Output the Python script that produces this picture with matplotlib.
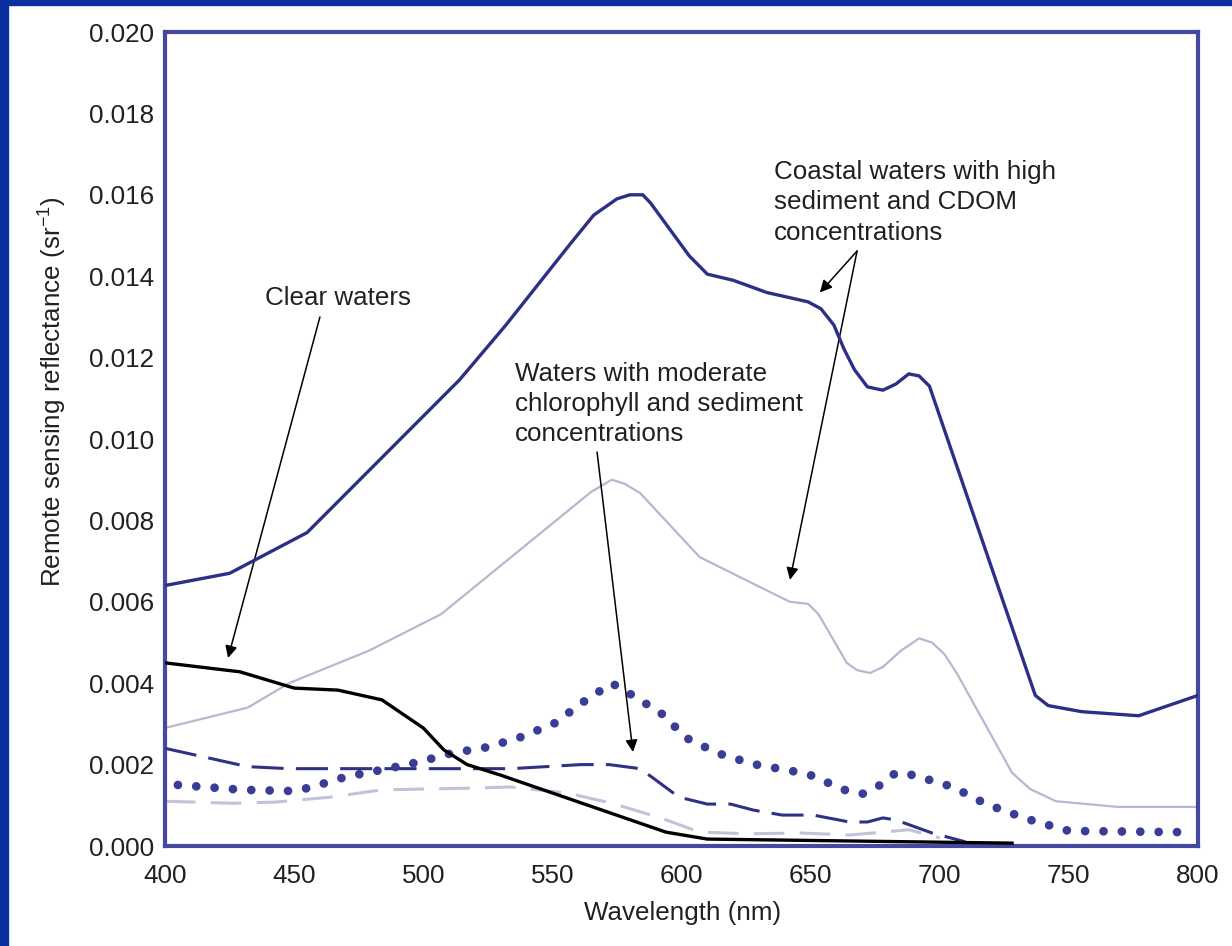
import numpy as np
import matplotlib
matplotlib.use("Agg")
import matplotlib.pyplot as plt
from matplotlib.patches import Rectangle

plt.rcParams['font.family'] = ['Liberation Sans', 'DejaVu Sans']
plt.rcParams['mathtext.fontset'] = 'custom'
plt.rcParams['mathtext.rm'] = 'Liberation Sans'
plt.rcParams['mathtext.it'] = 'Liberation Sans:italic'

# remote sensing reflectance spectra (sr^-1) vs wavelength (nm)
wl_coastal = [400, 425, 455, 514, 532, 557, 566, 575, 580, 585, 588, 603, 610, 620,
              633, 649, 654, 659, 663, 667, 672, 678, 683, 688, 692, 696, 737, 742,
              755, 777, 800]
rrs_coastal = [0.0064, 0.0067, 0.0077, 0.01145, 0.0128, 0.0148, 0.0155, 0.0159, 0.0160,
               0.0160, 0.0158, 0.0145, 0.01405, 0.0139, 0.0136, 0.01337, 0.0132, 0.0128,
               0.0122, 0.0117, 0.01128, 0.0112, 0.01135, 0.0116, 0.01155, 0.0113,
               0.0037, 0.00345, 0.0033, 0.0032, 0.0037]

wl_turbid = [400, 432, 448, 479, 507, 565, 573, 578, 584, 607, 626, 642, 649, 653, 664,
             668, 673, 678, 685, 692, 697, 702, 707, 728, 735, 745, 769, 800]
rrs_turbid = [0.0029, 0.0034, 0.0040, 0.0048, 0.0057, 0.0087, 0.0090, 0.0089, 0.00867,
              0.0071, 0.0065, 0.0060, 0.00595, 0.0057, 0.0045, 0.00432, 0.00425, 0.0044,
              0.0048, 0.0051, 0.0050, 0.0047, 0.0042, 0.0018, 0.0014, 0.0011, 0.00096,
              0.00096]

wl_clear = [400, 429, 450, 467, 484, 500, 508, 517, 530, 594, 610, 728]
rrs_clear = [0.0045, 0.00428, 0.00388, 0.00383, 0.00359, 0.0029, 0.00236, 0.0020,
             0.00174, 0.00034, 0.00017, 0.00007]

wl_moderate = [405, 430, 450, 457, 470, 484, 498, 511, 525, 538, 551, 562, 573, 579,
               592, 602, 614, 628, 643, 650, 663, 670, 677, 683, 690, 705, 718, 734,
               750, 795]
rrs_moderate = [0.0015, 0.00138, 0.00135, 0.00145, 0.0017, 0.00187, 0.00206, 0.00228,
                0.00243, 0.00268, 0.00302, 0.00354, 0.0040, 0.00378, 0.00327, 0.00265,
                0.00228, 0.00201, 0.00184, 0.00174, 0.00138, 0.00128, 0.0015, 0.0018,
                0.00174, 0.00145, 0.00103, 0.00066, 0.00037, 0.00034]

wl_dash1 = [400, 432, 448, 534, 561, 572, 584, 589, 599, 610, 619, 628, 639, 651, 665,
            672, 678, 683, 697, 710]
rrs_dash1 = [0.0024, 0.00195, 0.0019, 0.0019, 0.0020, 0.0020, 0.0019, 0.00167, 0.0012,
             0.00103, 0.00103, 0.00088, 0.00076, 0.00076, 0.00059, 0.00059, 0.00069,
             0.00064, 0.00032, 0.0001]

wl_dash2 = [400, 426, 443, 464, 484, 517, 534, 556, 573, 592, 607, 626, 646, 665, 678,
            688, 700]
rrs_dash2 = [0.0011, 0.00105, 0.00108, 0.0012, 0.00138, 0.00142, 0.00145, 0.0013,
             0.00105, 0.00069, 0.00034, 0.0003, 0.00032, 0.00027, 0.00034, 0.0004, 0.0002]

xticks = [400, 450, 500, 550, 600, 650, 700, 750, 800]
yticks = [0.000, 0.002, 0.004, 0.006, 0.008, 0.010, 0.012, 0.014, 0.016, 0.018, 0.020]

txt = '#231f20'
navy = '#2c2f86'
fs = 18.7

fig = plt.figure(figsize=(12.32, 9.46), dpi=100)
fig.patch.set_facecolor('white')
# blue frame on left and top edges
fig.patches.append(Rectangle((0, 0), 8 / 1232, 1, transform=fig.transFigure,
                             color='#0a30a0', zorder=0))
fig.patches.append(Rectangle((0, 1 - 5 / 946), 1, 5 / 946, transform=fig.transFigure,
                             color='#0a30a0', zorder=0))

ax = fig.add_axes([165 / 1232, 1 - 846 / 946, 1033 / 1232, 814 / 946])

ax.plot(wl_turbid, rrs_turbid, color='#b7b7cf', lw=1.6, zorder=2)
ax.plot(wl_dash2, rrs_dash2, color='#c2c2dc', lw=2.2, dashes=(10, 5), zorder=2)
ax.plot(wl_dash1, rrs_dash1, color='#2f3282', lw=2.2, dashes=(10.5, 4), zorder=3)
ax.plot(wl_moderate, rrs_moderate, color='#3a3d96', lw=6.3,
        linestyle=(0, (0.001, 2.1)), dash_capstyle='round', zorder=3)
ax.plot(wl_clear, rrs_clear, color='black', lw=2.4, zorder=4)
ax.plot(wl_coastal, rrs_coastal, color=navy, lw=2.4, zorder=4)

ax.set_xlim(400, 800)
ax.set_ylim(0, 0.020)
ax.set_xticks(xticks)
ax.set_yticks(yticks)
ax.set_yticklabels([f'{v:.3f}' for v in yticks])
ax.tick_params(axis='both', length=0, labelsize=fs, labelcolor=txt)
ax.tick_params(axis='y', pad=8)
ax.tick_params(axis='x', pad=13)
for s in ax.spines.values():
    s.set_color('#4548a0')
    s.set_linewidth(3)

ax.set_xlabel('Wavelength (nm)', fontsize=fs, color=txt)
ax.xaxis.set_label_coords(0.501, -0.068)
ax.set_ylabel('Remote sensing reflectance (sr$^{-1}$)', fontsize=fs, color=txt)
ax.yaxis.set_label_coords(-0.093, 0.558)

arrow = dict(arrowstyle='-|>', mutation_scale=18, lw=1.1, color='black',
             shrinkA=0, shrinkB=0)

ax.text(438.7, 0.01346, 'Clear waters', fontsize=fs, color=txt, ha='left', va='center')
ax.annotate('', xy=(424.4, 0.00462), xytext=(460, 0.0130), arrowprops=arrow)

ax.text(535.5, 0.0119, 'Waters with moderate\nchlorophyll and sediment\nconcentrations',
        fontsize=fs, color=txt, ha='left', va='top', linespacing=1.33)
ax.annotate('', xy=(581.2, 0.00231), xytext=(567.3, 0.00968), arrowprops=arrow)

ax.text(635.8, 0.01685, 'Coastal waters with high\nsediment and CDOM\nconcentrations',
        fontsize=fs, color=txt, ha='left', va='top', linespacing=1.33)
ax.annotate('', xy=(653.6, 0.0136), xytext=(668, 0.01462), arrowprops=arrow)
ax.annotate('', xy=(642, 0.00654), xytext=(668, 0.01462), arrowprops=arrow)

fig.savefig('out.png', dpi=100, facecolor='white')
